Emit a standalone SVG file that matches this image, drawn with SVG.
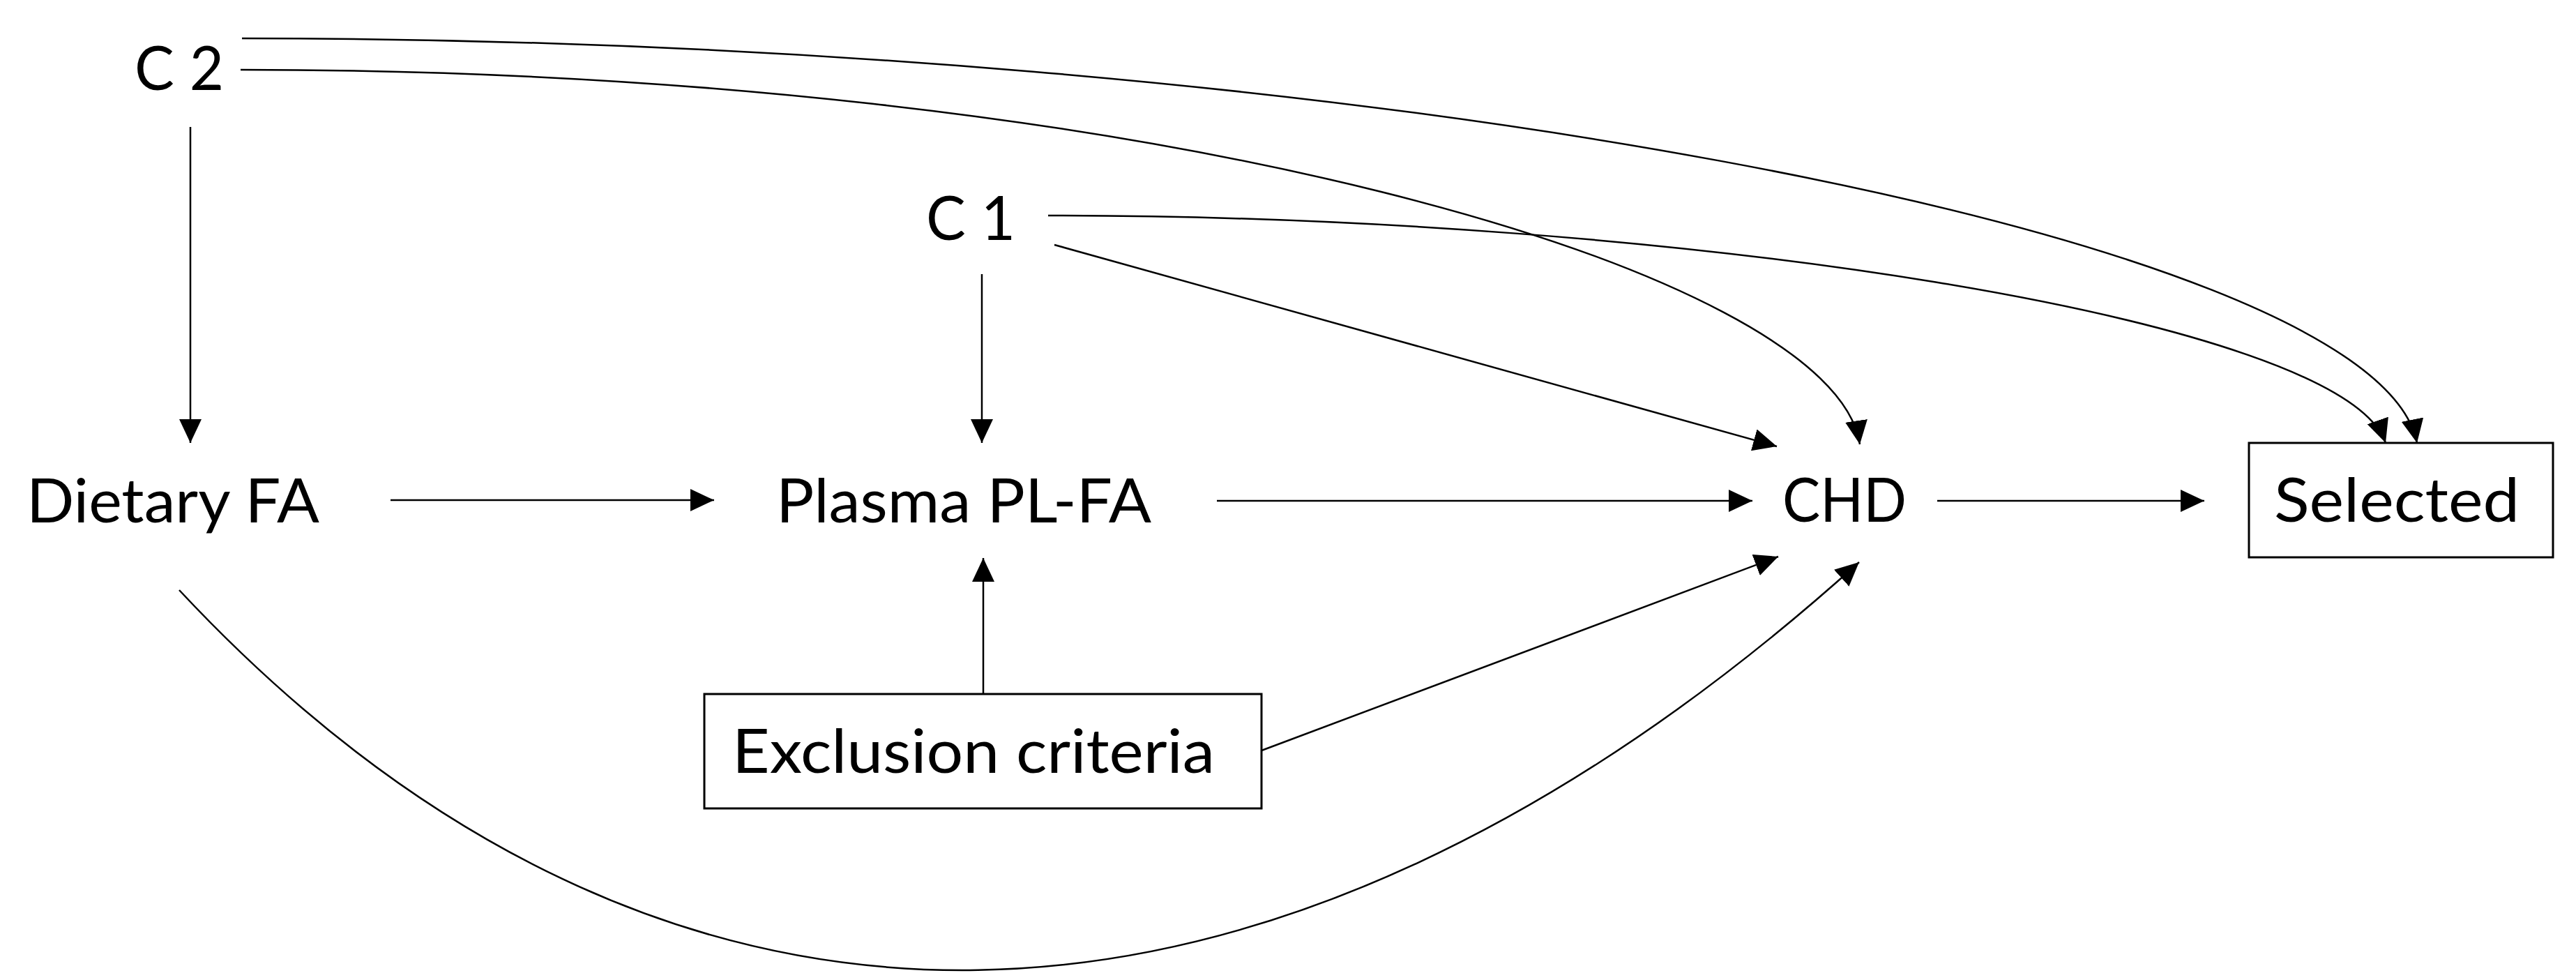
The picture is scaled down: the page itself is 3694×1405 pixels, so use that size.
<svg xmlns="http://www.w3.org/2000/svg" width="3694" height="1405" viewBox="0 0 3694 1405">
<style>
.lbl{font-family:Lato,"Open Sans","Liberation Sans",sans-serif;font-size:88px;fill:#000}
.box{fill:#fff;stroke:#000;stroke-width:3}
.edge{fill:none;stroke:#000;stroke-width:2.5;marker-end:url(#ah)}
</style>
<defs>
<marker id="ah" markerUnits="userSpaceOnUse" markerWidth="34" markerHeight="32" refX="34" refY="16" orient="auto" viewBox="0 0 34 32">
<path d="M0,0 L34,16 L0,32 z" fill="#000"/>
</marker>
</defs>
<rect width="3694" height="1405" fill="#fff"/>
<g id="connectors">
<path class="edge" d="M273,182 L273,635"/>
<path class="edge" d="M1408,393 L1408,635"/>
<path class="edge" d="M1410,995 L1410,800"/>
<path class="edge" d="M560,717 L1024,717"/>
<path class="edge" d="M1745,718 L2513,718"/>
<path class="edge" d="M2778,718 L3161,718"/>
<path class="edge" d="M1512,351 L2548,640"/>
<path class="edge" d="M1809,1076 L2550,798"/>
<path class="edge" d="M347,55 C1900,55 3406,330 3466,635"/>
<path class="edge" d="M345,100 C1645,100 2630,387 2667,637"/>
<path class="edge" d="M1503,309 C2403,309 3358,455 3421,635"/>
<path class="edge" d="M257,846 C950,1587 1816,1571 2666,806"/>
</g>
<g id="node-c2"><text class="lbl" x="193" y="129" textLength="128" lengthAdjust="spacingAndGlyphs">C 2</text></g>
<g id="node-c1"><text class="lbl" x="1328" y="344" textLength="128" lengthAdjust="spacingAndGlyphs">C 1</text></g>
<g id="node-dietary"><text class="lbl" x="38" y="749" textLength="420" lengthAdjust="spacingAndGlyphs">Dietary FA</text></g>
<g id="node-plasma"><text class="lbl" x="1113" y="749" textLength="538" lengthAdjust="spacingAndGlyphs">Plasma PL-FA</text></g>
<g id="node-chd"><text class="lbl" x="2556" y="748" textLength="178" lengthAdjust="spacingAndGlyphs">CHD</text></g>
<g id="node-selected"><rect class="box" x="3225" y="635" width="436" height="164"/><text class="lbl" x="3261" y="748" textLength="352" lengthAdjust="spacingAndGlyphs">Selected</text></g>
<g id="node-exclusion"><rect class="box" x="1010" y="995" width="799" height="164"/><text class="lbl" x="1050" y="1108" textLength="692" lengthAdjust="spacingAndGlyphs">Exclusion criteria</text></g>
</svg>
